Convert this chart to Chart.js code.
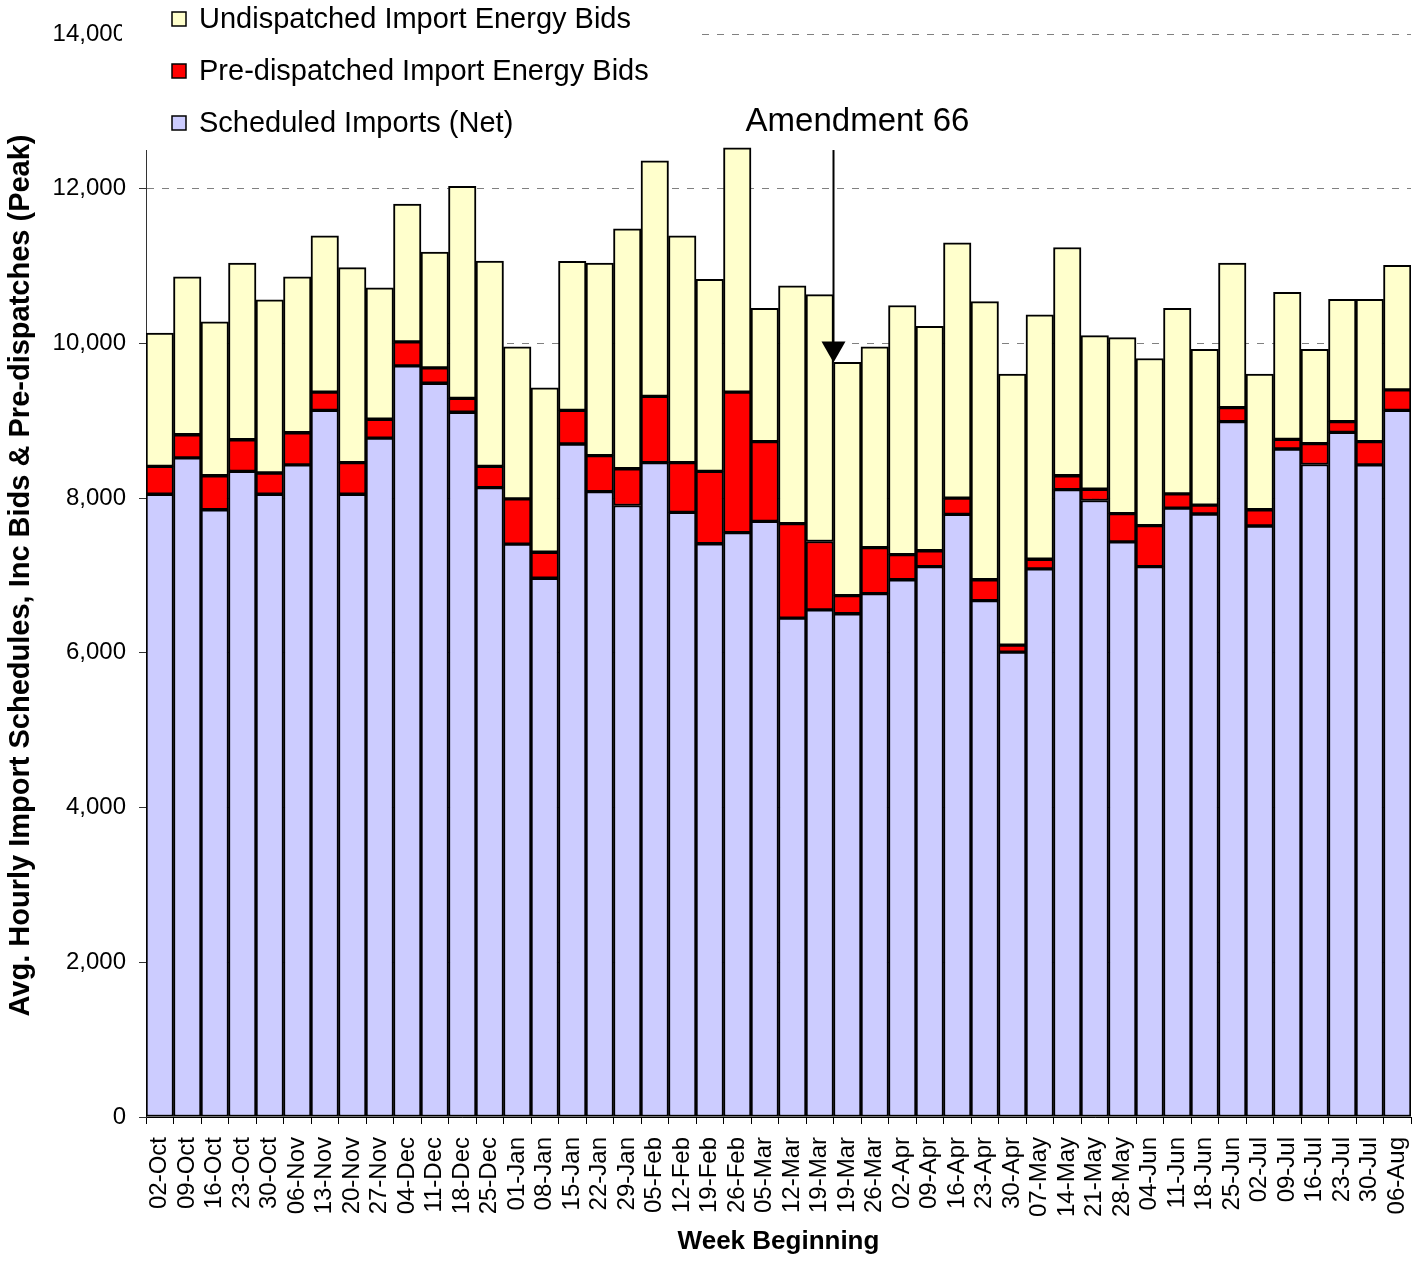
<!DOCTYPE html>
<html>
<head>
<meta charset="utf-8">
<script src="https://cdn.jsdelivr.net/npm/chart.js@4/dist/chart.umd.min.js"></script>
<style>
  body { margin: 0; background: #fff; }
  canvas { display: block; }
</style>
</head>
<body>
<canvas id="chart" width="1421" height="1261"></canvas>
<script>
const weeks = ["02-Oct", "09-Oct", "16-Oct", "23-Oct", "30-Oct", "06-Nov", "13-Nov", "20-Nov", "27-Nov",
    "04-Dec", "11-Dec", "18-Dec", "25-Dec", "01-Jan", "08-Jan", "15-Jan", "22-Jan", "29-Jan",
    "05-Feb", "12-Feb", "19-Feb", "26-Feb", "05-Mar", "12-Mar", "19-Mar", "19-Mar", "26-Mar",
    "02-Apr", "09-Apr", "16-Apr", "23-Apr", "30-Apr", "07-May", "14-May", "21-May", "28-May",
    "04-Jun", "11-Jun", "18-Jun", "25-Jun", "02-Jul", "09-Jul", "16-Jul", "23-Jul", "30-Jul", "06-Aug"];

const scheduledImports = [8050, 8520, 7850, 8345, 8050, 8430, 9135, 8050, 8775, 9710, 9485, 9110, 8135,
    7405, 6965, 8700, 8085, 7905, 8460, 7815, 7410, 7555, 7700, 6450, 6555, 6505, 6765, 6945, 7115,
    7790, 6675, 6010, 7085, 8110, 7970, 7435, 7115, 7870, 7795, 8990, 7640, 8635, 8435, 8850, 8430, 9135];

const preDispatched = [360, 300, 440, 410, 275, 415, 235, 410, 245, 310, 200, 180, 275,
    585, 335, 435, 465, 475, 855, 645, 935, 1815, 1030, 1220, 885, 235, 595, 325, 205,
    210, 270, 90, 125, 180, 145, 365, 530, 185, 115, 180, 210, 125, 270, 140, 300, 265];

const undispatched = [1725, 2040, 1990, 2285, 2240, 2015, 2020, 2520, 1700, 1780, 1495, 2740, 2655,
    1965, 2125, 1925, 2490, 3100, 3045, 2930, 2485, 3160, 1725, 3075, 3190, 3015, 2595, 3220, 2900,
    3300, 3595, 3505, 3160, 2950, 1985, 2275, 2160, 2400, 2015, 1870, 1755, 1900, 1220, 1580, 1840, 1610];

const yTicks = [0, 2000, 4000, 6000, 8000, 10000, 12000, 14000];

// amendment marker sits between the two 19-Mar weeks
const amendIndex = 25;
const amendLabel = "Amendment 66";

const FONT = "'Liberation Sans', Arial, sans-serif";

const legendBox = {
    id: "legendBox",
    afterDraw(chart) {
        const ctx = chart.ctx;
        ctx.save();
        ctx.fillStyle = "#fff";
        ctx.fillRect(122, 0, 578, 150);
        const items = chart.data.datasets.slice().reverse();
        ctx.font = "29px " + FONT;
        ctx.textBaseline = "middle";
        ctx.textAlign = "left";
        items.forEach((ds, i) => {
            const cy = 19 + i * 52;
            ctx.fillStyle = ds.backgroundColor;
            ctx.fillRect(172, cy - 7, 14, 14);
            ctx.strokeStyle = "#000";
            ctx.lineWidth = 1.5;
            ctx.strokeRect(172, cy - 7, 14, 14);
            ctx.fillStyle = "#000";
            ctx.fillText(ds.label, 199, cy + 1);
        });
        ctx.restore();
    }
};

const amendment = {
    id: "amendment",
    afterDraw(chart) {
        const xs = chart.scales.x, ys = chart.scales.y;
        const ctx = chart.ctx;
        const x = (xs.getPixelForValue(amendIndex - 1) + xs.getPixelForValue(amendIndex)) / 2;
        const total = scheduledImports[amendIndex] + preDispatched[amendIndex] + undispatched[amendIndex];
        const tip = ys.getPixelForValue(total);
        const top = ys.getPixelForValue(12500);
        ctx.save();
        ctx.strokeStyle = "#000";
        ctx.lineWidth = 2;
        ctx.beginPath();
        ctx.moveTo(x, top);
        ctx.lineTo(x, tip - 20);
        ctx.stroke();
        ctx.fillStyle = "#000";
        ctx.beginPath();
        ctx.moveTo(x - 12, tip - 21);
        ctx.lineTo(x + 12, tip - 21);
        ctx.lineTo(x, tip);
        ctx.closePath();
        ctx.fill();
        ctx.font = "33px " + FONT;
        ctx.textAlign = "center";
        ctx.textBaseline = "alphabetic";
        ctx.fillText(amendLabel, x + 24, top - 19);
        ctx.restore();
    }
};

const barStyle = {
    borderColor: "#000",
    borderWidth: 2,
    borderSkipped: false,
    barPercentage: 1.0,
    categoryPercentage: 1.0
};

new Chart(document.getElementById("chart").getContext("2d"), {
    type: "bar",
    data: {
        labels: weeks,
        datasets: [
            Object.assign({ label: "Scheduled Imports (Net)", data: scheduledImports, backgroundColor: "#CCCCFF" }, barStyle),
            Object.assign({ label: "Pre-dispatched Import Energy Bids", data: preDispatched, backgroundColor: "#FF0000" }, barStyle),
            Object.assign({ label: "Undispatched Import Energy Bids", data: undispatched, backgroundColor: "#FFFFCC" }, barStyle)
        ]
    },
    options: {
        responsive: false,
        animation: false,
        devicePixelRatio: 1,
        layout: { padding: { left: 0, right: 10, top: 34, bottom: 0 } },
        plugins: {
            legend: { display: false },
            tooltip: { enabled: false }
        },
        scales: {
            x: {
                stacked: true,
                grid: { drawOnChartArea: false, tickLength: 7, tickColor: "#000", offset: true },
                border: { color: "#000", width: 1 },
                ticks: {
                    autoSkip: false,
                    minRotation: 90,
                    maxRotation: 90,
                    padding: 13,
                    color: "#000",
                    font: { family: FONT, size: 24 }
                },
                title: {
                    display: true,
                    text: "Week Beginning",
                    color: "#000",
                    font: { family: FONT, size: 26, weight: "bold" }
                },
                afterFit(scale) {
                    scale.height = 144;
                    scale.paddingLeft = 0;
                    scale.paddingRight = 0;
                }
            },
            y: {
                stacked: true,
                min: 0,
                max: 14000,
                afterBuildTicks(scale) { scale.ticks = yTicks.map(v => ({ value: v })); },
                grid: { color: "#808080", tickLength: 7, tickColor: "#333", tickBorderDash: [] },
                border: { color: "#333", width: 1, dash: [7, 8] },
                ticks: {
                    padding: 13,
                    color: "#000",
                    font: { family: FONT, size: 24 },
                    callback: v => v.toLocaleString("en-US")
                },
                title: {
                    display: true,
                    text: "Avg. Hourly Import Schedules, Inc Bids & Pre-dispatches (Peak)",
                    color: "#000",
                    font: { family: FONT, size: 29, weight: "bold" }
                },
                afterFit(scale) {
                    scale.width = 146;
                    scale.paddingTop = 0;
                    scale.paddingBottom = 0;
                }
            }
        }
    },
    plugins: [amendment, legendBox]
});
</script>
</body>
</html>
